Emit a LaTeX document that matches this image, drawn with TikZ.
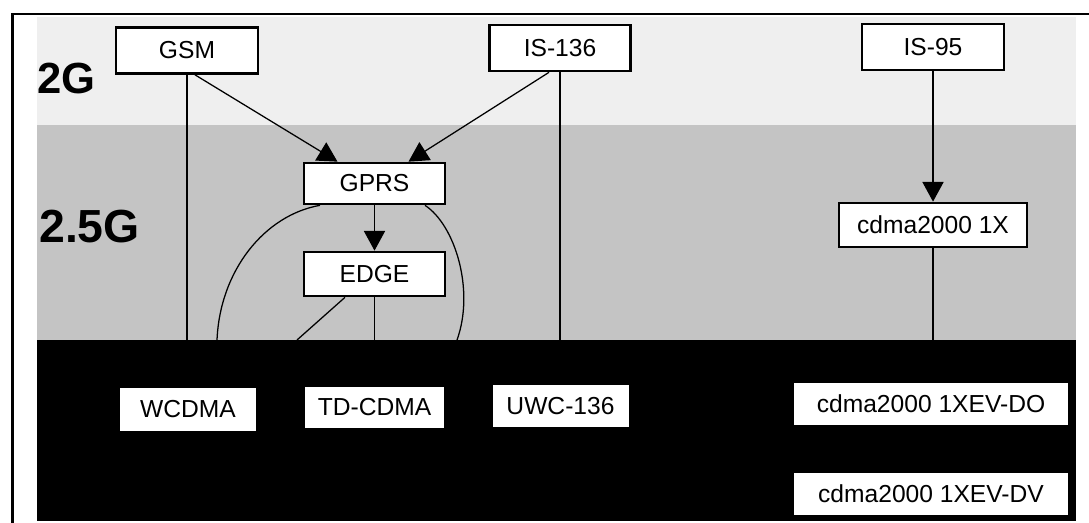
\documentclass[tikz,border=0pt]{standalone}
\usepackage{fontspec}
\setmainfont{Liberation Sans}
\usetikzlibrary{arrows.meta,calc}
\definecolor{bandA}{HTML}{EFEFEF}
\definecolor{bandB}{HTML}{C4C4C4}
\begin{document}
\begin{tikzpicture}[x=0.025cm, y=-0.025cm,
  every node/.style={inner sep=0pt, font=\fontsize{17.5}{20}\selectfont},
  techbox/.style={draw=black, line width=1.9pt, fill=white, minimum width=#1*0.025cm, minimum height=45*0.025cm},
  newbox/.style={fill=white, minimum width=#1*0.025cm, minimum height=42*0.025cm},
  genlabel/.style={anchor=west, font=\fontsize{#1}{#1}\selectfont\bfseries},
  link/.style={line width=0.9pt},
  arr/.style={link, -{Triangle[length=14pt,width=15pt]}}
]
\useasboundingbox (0,0) rectangle (1089,523);
% bands
\fill[white] (0,0) rectangle (1089,523);
\fill[bandA] (37,17) rectangle (1076,125);
\fill[bandB] (37,125) rectangle (1076,340);
\fill[black] (37,340) rectangle (1076,521);
% frame
\draw[line width=1.6pt] (12.6,523) -- (12.6,14) -- (1089,14);

% generation labels
\node[genlabel=31] (g2) at (37,78) {2G};
\node[genlabel=33] (g25) at (39,227) {2.5G};

% 2G / 2.5G nodes
\node[techbox=142, minimum height=46*0.025cm] (gsm) at (187,50.5) {GSM};
\node[techbox=141, minimum height=46*0.025cm] (is136) at (560,48) {IS-136};
\node[techbox=142, minimum height=46*0.025cm] (is95) at (933,47) {IS-95};
\node[techbox=141, minimum height=41*0.025cm] (gprs) at (374.5,183.5) {GPRS};
\node[techbox=141, minimum height=44*0.025cm] (edge) at (374.5,274) {EDGE};
\node[techbox=188, minimum height=44*0.025cm] (cdmaX) at (933,225) {cdma2000 1X};

% free ends at the top of the black band
\coordinate (gsmEnd) at (187,340);
\coordinate (isEnd) at (560,340);
\coordinate (edgeEnd) at (374.5,340);
\coordinate (edgeDiag) at (297,340);
\coordinate (cdmaEnd) at (933,340);
\coordinate (leftEnd) at (217,340);
\coordinate (rightEnd) at (457,340);

% connectors
\draw[link] (gsm.south) -- (gsmEnd);
\draw[arr] ($(gsm.south)+(8,0)$) -- ($(gprs.north)+(-37,0)$);
\draw[arr] ($(is136.south)+(-11,0)$) -- ($(gprs.north)+(34,0)$);
\draw[link] (is136.south) -- (isEnd);
\draw[arr] (is95.south) -- (cdmaX.north);
\draw[arr] (gprs.south) -- (edge.north);
\draw[link] (edge.south) -- (edgeEnd);
\draw[link] ($(edge.south)+(-29.5,0)$) -- (edgeDiag);
\draw[link] (cdmaX.south) -- (cdmaEnd);
\draw[link] ($(gprs.south)+(-54.5,0)$) .. controls (265,215) and (220,270) .. (leftEnd);
\draw[link] ($(gprs.south)+(50.5,0)$) .. controls (455,225) and (475,290) .. (rightEnd);

% 3G nodes
\node[newbox=136, minimum height=43*0.025cm] (wcdma) at (188,409.5) {WCDMA};
\node[newbox=139, minimum height=41*0.025cm] (tdcdma) at (374.5,407.5) {TD-CDMA};
\node[newbox=136] (uwc) at (560.5,406) {UWC-136};
\node[newbox=274] (evdo) at (931,404) {cdma2000 1XEV-DO};
\node[newbox=274] (evdv) at (931,494) {cdma2000 1XEV-DV};
\end{tikzpicture}
\end{document}
